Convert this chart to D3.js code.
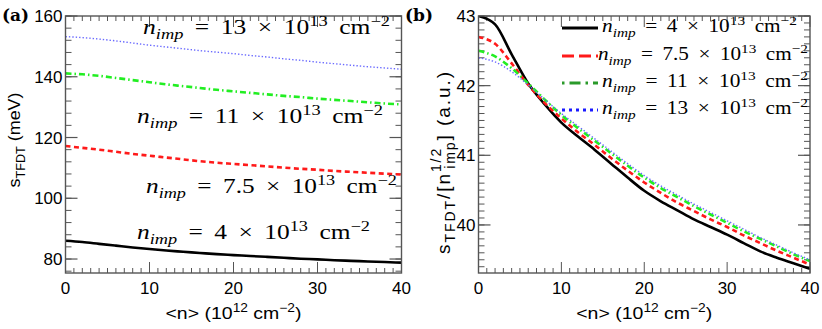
<!DOCTYPE html>
<html>
<head>
<meta charset="utf-8">
<script src="https://cdn.jsdelivr.net/npm/d3@7"></script>
<style>
  body { margin: 0; background: #fff; }
  svg text { fill: #000; }
</style>
</head>
<body>
<script>
/* data */
var nAxis = [0, 2, 4, 6, 8, 10, 12, 14, 16, 18, 20, 22, 24, 26, 28, 30, 32, 34, 36, 38, 40];

// panel (a): s_TFDT in meV
var sA4   = [86.0, 85.6, 85.0, 84.4, 83.8, 83.3, 82.8, 82.4, 82.0, 81.6, 81.3, 81.0, 80.7, 80.4, 80.1, 79.9, 79.6, 79.4, 79.2, 79.0, 78.8];
var sA75  = [117.2, 116.6, 116.0, 115.3, 114.6, 114.0, 113.4, 112.8, 112.2, 111.7, 111.3, 110.9, 110.5, 110.1, 109.7, 109.4, 109.0, 108.7, 108.4, 108.1, 107.8];
var sA11  = [141.1, 140.8, 140.3, 139.6, 138.9, 138.2, 137.5, 136.9, 136.3, 135.7, 135.2, 134.7, 134.2, 133.7, 133.3, 132.8, 132.4, 132.0, 131.6, 131.2, 130.9];
var sA13  = [153.2, 152.9, 152.4, 151.8, 151.1, 150.4, 149.8, 149.2, 148.6, 148.1, 147.6, 147.0, 146.5, 145.9, 145.4, 144.8, 144.3, 143.8, 143.3, 142.9, 142.5];

// panel (b): s_TFDT / sqrt(n_imp)
var sB4   = [43.0, 42.88, 42.45, 42.03, 41.73, 41.47, 41.27, 41.08, 40.88, 40.68, 40.49, 40.34, 40.21, 40.08, 39.97, 39.86, 39.74, 39.62, 39.53, 39.45, 39.37];
var sB75  = [42.7, 42.6, 42.32, 42.01, 41.75, 41.53, 41.33, 41.15, 40.96, 40.78, 40.61, 40.46, 40.32, 40.2, 40.08, 39.97, 39.85, 39.74, 39.63, 39.53, 39.43];
var sB11  = [42.5, 42.42, 42.25, 42.03, 41.8, 41.58, 41.39, 41.21, 41.03, 40.85, 40.68, 40.53, 40.4, 40.27, 40.15, 40.03, 39.91, 39.8, 39.69, 39.58, 39.48];
var sB13  = [42.4, 42.34, 42.2, 42.01, 41.8, 41.6, 41.42, 41.24, 41.06, 40.88, 40.71, 40.56, 40.43, 40.3, 40.18, 40.06, 39.94, 39.82, 39.71, 39.6, 39.5];

var impLabels = ["4", "7.5", "11", "13"];
var xTicks = [0, 10, 20, 30, 40];
var yTicksA = [80, 100, 120, 140, 160];
var yTicksB = [40, 41, 42, 43];

var W = 822, H = 329;
var svg = d3.select("body").append("svg")
            .attr("width", W).attr("height", H)
            .style("font-family", "'Liberation Sans', Arial, sans-serif");

var styles = [
  { color: "#000000", width: 2.6, dash: null },
  { color: "#ff1a1a", width: 2.6, dash: "5,3.5" },
  { color: "#22ee22", width: 2.6, dash: "6,3,1.5,3" },
  { color: "#6a6aff", width: 1.4, dash: "1.4,2" }
];
var legendStyles = [
  { color: "#000000", width: 3, dash: null },
  { color: "#ff1a1a", width: 3, dash: "12,5" },
  { color: "#2a9a2a", width: 3, dash: "2.5,5,11,5" },
  { color: "#1a1aff", width: 3, dash: "3,4" }
];

function drawPanel(opt) {
  var x = d3.scaleLinear().domain([0, 40]).range([opt.x0, opt.x1]);
  var y = d3.scaleLinear().domain(opt.yDomain).range([opt.y1, opt.y0]);
  var g = svg.append("g");

  // minor ticks
  var minorX = d3.range(0, 40.001, 1);
  var minorY = d3.range(opt.yMinor[0], opt.yDomain[1] + 1e-6, opt.yMinor[1]);
  g.selectAll(".mx").data(minorX).enter().append("line")
    .attr("x1", d => x(d)).attr("x2", d => x(d))
    .attr("y1", opt.y1).attr("y2", d => opt.y1 - (d % 10 === 0 ? 11 : 5))
    .attr("stroke", "#555").attr("stroke-width", 1);
  g.selectAll(".mxt").data(minorX).enter().append("line")
    .attr("x1", d => x(d)).attr("x2", d => x(d))
    .attr("y1", opt.y0).attr("y2", d => opt.y0 + (d % 10 === 0 ? 11 : 5))
    .attr("stroke", "#555").attr("stroke-width", 1);
  g.selectAll(".my").data(minorY).enter().append("line")
    .attr("x1", opt.x0).attr("x2", opt.x0 + 6)
    .attr("y1", d => y(d)).attr("y2", d => y(d))
    .attr("stroke", "#555").attr("stroke-width", 1);
  g.selectAll(".myr").data(minorY).enter().append("line")
    .attr("x1", opt.x1).attr("x2", opt.x1 - 6)
    .attr("y1", d => y(d)).attr("y2", d => y(d))
    .attr("stroke", "#555").attr("stroke-width", 1);
  g.selectAll(".My").data(opt.yTicks).enter().append("line")
    .attr("x1", opt.x0).attr("x2", opt.x0 + 12)
    .attr("y1", d => y(d)).attr("y2", d => y(d))
    .attr("stroke", "#555").attr("stroke-width", 1.2);
  g.selectAll(".Myr").data(opt.yTicks).enter().append("line")
    .attr("x1", opt.x1).attr("x2", opt.x1 - 12)
    .attr("y1", d => y(d)).attr("y2", d => y(d))
    .attr("stroke", "#555").attr("stroke-width", 1.2);

  // tick labels
  g.selectAll(".xl").data(xTicks).enter().append("text")
    .attr("x", d => x(d)).attr("y", opt.y1 + 21)
    .attr("text-anchor", "middle").attr("font-size", 17)
    .text(d => d);
  g.selectAll(".yl").data(opt.yTicks).enter().append("text")
    .attr("x", opt.x0 - 3).attr("y", d => y(d) + 6)
    .attr("text-anchor", "end").attr("font-size", 17)
    .text(d => d);

  // curves
  var line = d3.line().x((d, i) => x(nAxis[i])).y(d => y(d)).curve(d3.curveMonotoneX);
  var clip = "clip" + opt.id;
  svg.append("clipPath").attr("id", clip).append("rect")
    .attr("x", opt.x0).attr("y", opt.y0).attr("width", opt.x1 - opt.x0).attr("height", opt.y1 - opt.y0);
  opt.series.forEach(function (s, i) {
    g.append("path").datum(s)
      .attr("d", line)
      .attr("clip-path", "url(#" + clip + ")")
      .attr("fill", "none")
      .attr("stroke", styles[i].color)
      .attr("stroke-width", styles[i].width)
      .attr("stroke-dasharray", styles[i].dash);
  });

  // frame
  g.append("rect").attr("x", opt.x0).attr("y", opt.y0)
    .attr("width", opt.x1 - opt.x0).attr("height", opt.y1 - opt.y0)
    .attr("fill", "none").attr("stroke", "#555").attr("stroke-width", 1.4);

  // x label
  var xl = g.append("text").attr("x", (opt.x0 + opt.x1) / 2).attr("y", opt.y1 + 46)
    .attr("text-anchor", "middle").attr("font-size", 17)
    .attr("textLength", 136).attr("lengthAdjust", "spacingAndGlyphs");
  xl.append("tspan").text("<n>  (10");
  xl.append("tspan").attr("dy", -7).attr("font-size", 12).text("12");
  xl.append("tspan").attr("dy", 7).text(" cm");
  xl.append("tspan").attr("dy", -7).attr("font-size", 12).text("\u22122");
  xl.append("tspan").attr("dy", 7).text(")");

  return { x: x, y: y, g: g };
}

// math-style label; stretched sideways to the width it has in the figure
function mathLabel(sel, xPos, yPos, val, size, len) {
  var gap = " \u2009";
  var t = sel.append("text").attr("x", 0).attr("y", 0)
    .attr("font-family", "'Liberation Serif', 'DejaVu Serif', serif")
    .attr("font-size", size).attr("fill", "#2a2a2a");
  t.append("tspan").attr("font-style", "italic").text("n");
  t.append("tspan").attr("font-style", "italic").attr("font-size", size * 0.72)
    .attr("dy", size * 0.25).text("imp");
  t.append("tspan").attr("dy", -size * 0.25).text(gap + "=" + gap + val + gap + "\u00d7" + gap + "10");
  t.append("tspan").attr("font-size", size * 0.72).attr("dy", -size * 0.4).text("13");
  t.append("tspan").attr("dy", size * 0.4).text(gap + "cm");
  t.append("tspan").attr("font-size", size * 0.72).attr("dy", -size * 0.4).text("\u22122");
  var w = t.node().getComputedTextLength();
  t.attr("transform", "translate(" + xPos + "," + yPos + ") scale(" + (len / w) + ",1)");
  return t;
}

// panel (a)
var pa = drawPanel({
  id: "a", x0: 65.5, x1: 401.5, y0: 16, y1: 273,
  yDomain: [75.4, 160], yTicks: yTicksA, yMinor: [76, 4],
  series: [sA4, sA75, sA11, sA13]
});
// panel (b)
var pb = drawPanel({
  id: "b", x0: 478.5, x1: 810, y0: 16, y1: 273,
  yDomain: [39.31, 43.0], yTicks: yTicksB, yMinor: [39.4, 0.1],
  series: [sB4, sB75, sB11, sB13]
});

// annotations panel (a)
var annA = [
  { v: impLabels[3], x: 143, y: 34, w: 247 },
  { v: impLabels[2], x: 137, y: 123, w: 246 },
  { v: impLabels[1], x: 146, y: 193, w: 251 },
  { v: impLabels[0], x: 137, y: 239, w: 233 }
];
annA.forEach(function (a) { mathLabel(svg, a.x, a.y, a.v, 20, a.w); });

// legend panel (b)
var legY = [28, 56, 83, 110];
var legX = [602, 598, 602, 602];
var legW = [195, 210, 206, 206];
legY.forEach(function (ly, i) {
  svg.append("line").attr("x1", 562).attr("x2", 598).attr("y1", ly).attr("y2", ly)
    .attr("stroke", legendStyles[i].color).attr("stroke-width", legendStyles[i].width)
    .attr("stroke-dasharray", legendStyles[i].dash);
  mathLabel(svg, legX[i], ly + 4, impLabels[i], 18.5, legW[i]);
});

// panel letters
svg.append("text").attr("x", 2).attr("y", 21)
  .attr("font-family", "'DejaVu Serif', 'Liberation Serif', serif")
  .attr("font-weight", "bold").attr("font-size", 17).text("(a)");
svg.append("text").attr("x", 405).attr("y", 21)
  .attr("font-family", "'DejaVu Serif', 'Liberation Serif', serif")
  .attr("font-weight", "bold").attr("font-size", 17).text("(b)");

// y labels
var yla = svg.append("text").attr("transform", "translate(20,140) rotate(-90)")
  .attr("text-anchor", "middle").attr("font-size", 17)
  .attr("textLength", 95).attr("lengthAdjust", "spacingAndGlyphs");
yla.append("tspan").text("s");
yla.append("tspan").attr("font-size", 12).attr("dy", 5).text("TFDT");
yla.append("tspan").attr("dy", -5).text(" (meV)");

var ylb = svg.append("text").attr("transform", "translate(450,163) rotate(-90)")
  .attr("text-anchor", "middle").attr("font-size", 19)
  .attr("textLength", 182).attr("lengthAdjust", "spacing");
ylb.append("tspan").text("s");
ylb.append("tspan").attr("font-size", 14).attr("dy", 5).text("TFDT");
ylb.append("tspan").attr("dy", -5).text("/[n");
ylb.append("tspan").attr("font-size", 14).attr("dy", -9).text("1/2");
ylb.append("tspan").attr("font-size", 14).attr("dx", -22).attr("dy", 14).text("imp");
ylb.append("tspan").attr("dy", -5).text("] (a.u.)");
</script>
</body>
</html>
